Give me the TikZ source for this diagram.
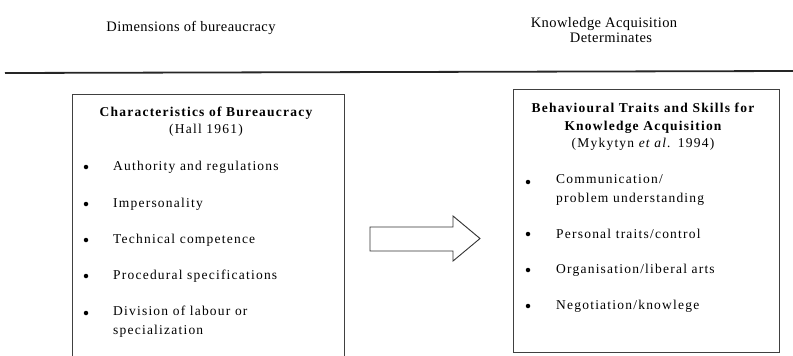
\documentclass[tikz,border=0pt]{standalone}
\usepackage{fontspec}
\setmainfont{Liberation Serif}
\newfontfamily\bxfont[LetterSpace=9]{Liberation Serif}
\newfontfamily\hdfont[LetterSpace=3]{Liberation Serif}
\begin{document}
\begin{tikzpicture}[x=1pt,y=-1pt,
  hdr/.style={font=\hdfont\fontsize{14.5}{16}\selectfont, align=center, inner sep=0pt},
  ttl/.style={font=\bxfont\fontsize{13.5}{18}\selectfont\bfseries, align=center, inner sep=0pt},
  cite/.style={font=\bxfont\fontsize{13.5}{15}\selectfont, align=center, inner sep=0pt},
  item/.style={font=\bxfont\fontsize{13.5}{19}\selectfont, align=left, anchor=west, inner sep=0pt},
  bul/.style={circle, fill=black, inner sep=0pt, minimum size=4.5pt},
  boxline/.style={draw=black!75, line width=1pt},
  bigarrow/.style={draw=black!80, line width=0.9pt, fill=white}]
\useasboundingbox (0,0) rectangle (793,356);
\clip (0,0) rectangle (793,356);
% headers
\node[hdr] (h1) at (191,28) {Dimensions of bureaucracy};
\node[hdr] (h2) at (604,30) {Knowledge Acquisition\\[-1pt]\hspace*{14pt}Determinates};
% separator line
\coordinate (sl) at (5,73);
\coordinate (sr) at (793,71);
\draw[line width=1.8pt, black!85] (sl) -- (sr);
% left box
\coordinate (lbA) at (72,94);
\coordinate (lbB) at (344,372);
\draw[boxline] (lbA) rectangle (lbB);
\node[ttl] (lt) at (206,113) {Characteristics of Bureaucracy};
\node[cite] (lc) at (206,130) {(Hall 1961)};
\node[bul] (lb1) at (86,167) {};
\node[item] (li1) at (113,167) {Authority and regulations};
\node[bul] (lb2) at (86,204) {};
\node[item] (li2) at (113,204) {Impersonality};
\node[bul] (lb3) at (86,240) {};
\node[item] (li3) at (113,240) {Technical competence};
\node[bul] (lb4) at (86,276) {};
\node[item] (li4) at (113,276) {Procedural specifications};
\node[bul] (lb5) at (86,313) {};
\node[item] (li5) at (113,322) {Division of labour or\\specialization};
% arrow
\coordinate (a1) at (370,227);
\coordinate (a2) at (453,227);
\coordinate (a3) at (453,216);
\coordinate (a4) at (480,238.5);
\coordinate (a5) at (453,261);
\coordinate (a6) at (453,251);
\coordinate (a7) at (370,251);
\draw[bigarrow, line join=miter] (a1) -- (a2) -- (a3) -- (a4) -- (a5) -- (a6) -- (a7) -- cycle;
% right box
\coordinate (rbA) at (513,89);
\coordinate (rbB) at (779,352);
\draw[boxline] (rbA) rectangle (rbB);
\node[ttl] (rt) at (643,118) {Behavioural Traits and Skills for\\Knowledge Acquisition};
\node[cite] (rc) at (643,144) {(Mykytyn \textit{et al.} 1994)};
\node[bul] (rbu1) at (528,182) {};
\node[item] (ri1) at (556,190) {Communication/\\problem understanding};
\node[bul] (rbu2) at (528,234) {};
\node[item] (ri2) at (556,234) {Personal traits/control};
\node[bul] (rbu3) at (528,270) {};
\node[item] (ri3) at (556,270) {Organisation/liberal arts};
\node[bul] (rbu4) at (528,306) {};
\node[item] (ri4) at (556,306) {Negotiation/knowlege};
\end{tikzpicture}
\end{document}
